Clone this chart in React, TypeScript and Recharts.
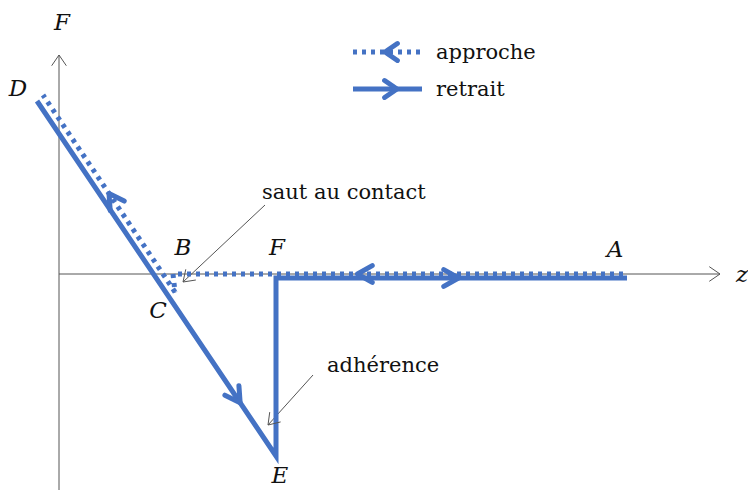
import { ComposedChart, Line, Scatter, XAxis, YAxis } from 'recharts';

const BLUE = '#4472C4';
const GREY = '#555555';
const SERIF = '"DejaVu Serif", serif';

// force curve, arbitrary units (z: distance, F: force)
const retraitPath = [
  { z: -0.44, F: 3.46 }, // D
  { z: 4.34, F: -3.64 }, // E
  { z: 4.34, F: -0.08 }, // F
  { z: 11.36, F: -0.08 }, // A
];
const approchePath = [
  { z: 11.28, F: 0 }, // A
  { z: 2.28, F: 0 }, // B
  { z: 2.32, F: -0.36 }, // C
  { z: -0.32, F: 3.58 }, // D
];

// direction chevrons: segment index and position along it
const retraitArrows = [{ seg: 0, t: 0.85 }, { seg: 2, t: 0.52 }];
const approcheArrows = [{ seg: 0, t: 0.59 }, { seg: 2, t: 0.5 }];

const zAxisLine = [{ z: 0, F: 0 }, { z: 13.22, F: 0 }];
const fAxisLine = [{ z: 0, F: -4.5 }, { z: 0, F: 4.38 }];

const pointLabels = [
  { text: 'F', z: 0.06, F: 5.04 },
  { text: 'D', z: -0.82, F: 3.72 },
  { text: 'B', z: 2.48, F: 0.54 },
  { text: 'F', z: 4.36, F: 0.54 },
  { text: 'A', z: 11.12, F: 0.5 },
  { text: 'C', z: 1.98, F: -0.72 },
  { text: 'E', z: 4.42, F: -4.02 },
  { text: 'z', z: 13.66, F: 0 },
];

const noteTexts = [
  { text: 'saut au contact', z: 4.06, F: 1.64 },
  { text: 'adhérence', z: 5.36, F: -1.82 },
];
const sautArrow = [{ z: 4.12, F: 1.38 }, { z: 2.48, F: -0.16 }];
const adherenceArrow = [{ z: 5.08, F: -2.02 }, { z: 4.18, F: -3.02 }];

const legendItems = [
  { label: 'approche', dotted: true, dir: -1 },
  { label: 'retrait', dotted: false, dir: 1 },
];

type Pt = { z: number; F: number };

const along = (path: Pt[], marks: { seg: number; t: number }[]) =>
  marks.map(({ seg, t }) => {
    const a = path[seg];
    const b = path[seg + 1];
    return {
      z: a.z + (b.z - a.z) * t,
      F: a.F + (b.F - a.F) * t,
      angle: Math.atan2(-(b.F - a.F), b.z - a.z),
    };
  });

const tipOf = (line: Pt[]) => {
  const a = line[line.length - 2];
  const b = line[line.length - 1];
  return { z: b.z, F: b.F, angle: Math.atan2(-(b.F - a.F), b.z - a.z) };
};

const arrowPoints = (cx: number, cy: number, angle: number, len: number, spread: number) => {
  const p1 = [cx - len * Math.cos(angle - spread), cy - len * Math.sin(angle - spread)];
  const p2 = [cx - len * Math.cos(angle + spread), cy - len * Math.sin(angle + spread)];
  return `${p1[0]},${p1[1]} ${cx},${cy} ${p2[0]},${p2[1]}`;
};

const Chevron = (props: any) => {
  const { cx, cy, payload } = props;
  return (
    <polyline
      points={arrowPoints(cx, cy, payload.angle, 17, 0.52)}
      fill="none"
      stroke={BLUE}
      strokeWidth={5}
      strokeLinecap="round"
      strokeLinejoin="round"
    />
  );
};

const OpenHead = (props: any) => {
  const { cx, cy, payload } = props;
  return (
    <polyline
      points={arrowPoints(cx, cy, payload.angle, 13, 0.6)}
      fill="none"
      stroke={GREY}
      strokeWidth={1}
    />
  );
};

const PointLabel = (props: any) => (
  <text
    x={props.cx}
    y={props.cy}
    textAnchor="middle"
    dominantBaseline="central"
    fontFamily={SERIF}
    fontStyle="italic"
    fontSize={23}
    fill="#111"
  >
    {props.payload.text}
  </text>
);

const NoteLabel = (props: any) => (
  <text
    x={props.cx}
    y={props.cy}
    dominantBaseline="central"
    fontFamily={SERIF}
    fontSize={21}
    fill="#111"
  >
    {props.payload.text}
  </text>
);

const LegendBox = () => (
  <svg width={200} height={70} style={{ position: 'absolute', left: 350, top: 30 }}>
    {legendItems.map((item, i) => {
      const y = 22 + i * 37;
      const tip = item.dir < 0 ? 35 : 47;
      return (
        <g key={item.label}>
          <line
            x1={3}
            x2={72}
            y1={y}
            y2={y}
            stroke={BLUE}
            strokeWidth={5}
            strokeDasharray={item.dotted ? '4 5' : undefined}
          />
          <polyline
            points={arrowPoints(tip, y, item.dir < 0 ? Math.PI : 0, 15, 0.6)}
            fill="none"
            stroke={BLUE}
            strokeWidth={5}
            strokeLinecap="round"
            strokeLinejoin="round"
          />
          <text x={86} y={y} dominantBaseline="central" fontFamily={SERIF} fontSize={21} fill="#111">
            {item.label}
          </text>
        </g>
      );
    })}
  </svg>
);

const App = () => {
  const axisHeads = [tipOf(zAxisLine), tipOf(fAxisLine)];
  const noteHeads = [tipOf(sautArrow), tipOf(adherenceArrow)];

  return (
    <div style={{ position: 'absolute', left: 0, top: 0, width: 748, height: 490, background: '#fff' }}>
      <ComposedChart width={748} height={490} margin={{ top: 0, right: 0, bottom: 0, left: 0 }}>
        <XAxis hide type="number" dataKey="z" domain={[-1.18, 13.78]} allowDataOverflow />
        <YAxis hide type="number" dataKey="F" domain={[-4.32, 5.48]} allowDataOverflow />

        <Line data={zAxisLine} dataKey="F" stroke={GREY} strokeWidth={1} dot={false} isAnimationActive={false} />
        <Line data={fAxisLine} dataKey="F" stroke={GREY} strokeWidth={1} dot={false} isAnimationActive={false} />
        <Scatter data={axisHeads} dataKey="F" shape={OpenHead} isAnimationActive={false} />

        <Line data={sautArrow} dataKey="F" stroke={GREY} strokeWidth={1} dot={false} isAnimationActive={false} />
        <Line data={adherenceArrow} dataKey="F" stroke={GREY} strokeWidth={1} dot={false} isAnimationActive={false} />
        <Scatter data={noteHeads} dataKey="F" shape={OpenHead} isAnimationActive={false} />

        <Line
          data={retraitPath}
          dataKey="F"
          stroke={BLUE}
          strokeWidth={5}
          strokeLinejoin="miter"
          dot={false}
          isAnimationActive={false}
        />
        <Line
          data={approchePath}
          dataKey="F"
          stroke={BLUE}
          strokeWidth={5}
          strokeDasharray="4 5"
          dot={false}
          isAnimationActive={false}
        />
        <Scatter data={along(retraitPath, retraitArrows)} dataKey="F" shape={Chevron} isAnimationActive={false} />
        <Scatter data={along(approchePath, approcheArrows)} dataKey="F" shape={Chevron} isAnimationActive={false} />

        <Scatter data={pointLabels} dataKey="F" shape={PointLabel} isAnimationActive={false} />
        <Scatter data={noteTexts} dataKey="F" shape={NoteLabel} isAnimationActive={false} />
      </ComposedChart>
      <LegendBox />
    </div>
  );
};

export default App;
